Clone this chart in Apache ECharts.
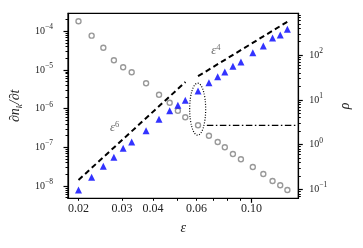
<!DOCTYPE html>
<html><head><meta charset="utf-8">
<script src="https://cdn.jsdelivr.net/npm/echarts@6/dist/echarts.min.js"></script>
<style>html,body{margin:0;padding:0;background:#fff}#chart{width:363px;height:248px}</style>
</head><body><div id="chart"></div>
<script>
// ---- data ----
const epsilon = [0.0200,0.0226,0.0252,0.0278,0.0303,0.0328,0.0375,0.0423,0.0467,0.0504,0.0540,0.0608,0.0673,0.0730,0.0780,0.0841,0.0906,0.1012,0.1116,0.1216,0.1306,0.1396];
const dnkdt = [7.9e-9,1.68e-8,3.24e-8,5.53e-8,9.45e-8,1.37e-7,2.69e-7,5.31e-7,8.85e-7,1.22e-6,1.64e-6,2.86e-6,4.69e-6,6.70e-6,8.87e-6,1.245e-5,1.61e-5,2.80e-5,4.17e-5,6.71e-5,8.02e-5,1.127e-4];
const rho = [572,273,147,76.9,53.7,41.5,23.6,13.1,8.68,5.75,4.10,2.71,1.59,1.148,0.874,0.619,0.472,0.318,0.221,0.1545,0.124,0.0973];
const fitEps6 = [[0.02,1.43e-8],[0.0541,4.9e-6]];
const fitEps4 = [[0.0608,6.9e-6],[0.1396,1.77e-4]];
const rhoPlateau = [[0.066,2.71],[0.152,2.71]];
const ellipseCenter = [0.0606, 9.7e-7];
const annotations = [{exp:'6', x:0.0280, y:3.16e-7},{exp:'4', x:0.0718, y:3.1e-5}];
const xRange = [0.01814, 0.1545];
const leftRange = [4.815e-9, 2.92e-4];
const rightRange = [0.0634, 863];
const xTickLabels = [0.02,0.03,0.04,0.06,0.10];
const xMinorTicks = [0.02,0.03,0.04,0.05,0.06,0.07,0.08,0.09];
const xMajorTicks = [0.1];
const leftDecades = [-8,-7,-6,-5,-4];
const rightDecades = [-1,0,1,2];

// ---- helpers ----
const lg = Math.log10;
const FONT = 'Liberation Serif';
function minorLog(lo, hi) {
  const out = [];
  for (let n = Math.floor(lo) - 1; n <= Math.ceil(hi); n++) {
    for (let k = 2; k <= 9; k++) {
      const v = n + lg(k);
      if (v >= lo && v <= hi) out.push(v);
    }
  }
  return out;
}
const supRich = {
  b: {fontFamily: FONT, fontSize: 10, color: '#222', lineHeight: 16},
  s: {fontFamily: FONT, fontSize: 7.5, color: '#222', lineHeight: 8, verticalAlign: 'top'}
};
function decadeLabel(v) {
  const n = Math.round(v);
  return '{b|10}{s|' + (n < 0 ? '\u2212' : '') + Math.abs(n) + '}';
}
const black = {color: '#000', width: 1.2};
const xr = [lg(xRange[0]), lg(xRange[1])];
const lr = [lg(leftRange[0]), lg(leftRange[1])];
const rr = [lg(rightRange[0]), lg(rightRange[1])];

const chart = echarts.init(document.getElementById('chart'), null, {renderer: 'canvas'});
chart.setOption({
  animation: false,
  backgroundColor: '#fff',
  grid: {left: 65.7, top: 13.3, width: 232.6, height: 185, show: true, borderColor: '#000', borderWidth: 1.2, backgroundColor: 'transparent'},
  xAxis: [
    {type: 'value', min: xr[0], max: xr[1], position: 'bottom',
     axisLine: {show: true, onZero: false, lineStyle: black},
     axisTick: {show: true, length: 4.5, lineStyle: black, customValues: xMajorTicks.map(lg)},
     axisLabel: {show: true, margin: 5, fontFamily: FONT, fontSize: 12, color: '#222',
       customValues: xTickLabels.map(lg), formatter: v => Math.pow(10, v).toFixed(2)},
     splitLine: {show: false},
     name: '\u03b5', nameLocation: 'middle', nameGap: 23,
     nameTextStyle: {fontFamily: FONT, fontStyle: 'italic', fontSize: 14, color: '#222'}},
    {type: 'value', min: xr[0], max: xr[1], position: 'bottom',
     axisLine: {show: false, onZero: false},
     axisTick: {show: true, length: 2.5, lineStyle: {color: '#000', width: 1}, customValues: xMinorTicks.map(lg)},
     axisLabel: {show: false}, splitLine: {show: false}}
  ],
  yAxis: [
    {type: 'value', min: lr[0], max: lr[1], position: 'left',
     axisLine: {show: true, onZero: false, lineStyle: black},
     axisTick: {show: true, length: 4.5, lineStyle: black, customValues: leftDecades},
     axisLabel: {show: true, margin: 15, customValues: leftDecades, formatter: decadeLabel, rich: supRich},
     splitLine: {show: false},
     name: '{i|\u2202n}{k|k}{i|/\u2202t}', nameLocation: 'middle', nameRotate: 90, nameGap: 44,
     nameTextStyle: {rich: {
       i: {fontFamily: FONT, fontStyle: 'italic', fontSize: 14, color: '#222', lineHeight: 18},
       k: {fontFamily: FONT, fontStyle: 'italic', fontSize: 9, color: '#222', lineHeight: 10, verticalAlign: 'bottom'}
     }}},
    {type: 'value', min: lr[0], max: lr[1], position: 'left',
     axisLine: {show: false, onZero: false},
     axisTick: {show: true, length: 2.5, lineStyle: {color: '#000', width: 1}, customValues: minorLog(lr[0], lr[1])},
     axisLabel: {show: false}, splitLine: {show: false}},
    {type: 'value', min: rr[0], max: rr[1], position: 'right',
     axisLine: {show: true, onZero: false, lineStyle: black},
     axisTick: {show: true, length: 4.5, lineStyle: black, customValues: rightDecades},
     axisLabel: {show: true, margin: 11, customValues: rightDecades, formatter: decadeLabel, rich: supRich},
     splitLine: {show: false},
     name: '\u03c1', nameLocation: 'middle', nameRotate: 90, nameGap: 40,
     nameTextStyle: {fontFamily: FONT, fontStyle: 'italic', fontSize: 14, color: '#222'}},
    {type: 'value', min: rr[0], max: rr[1], position: 'right',
     axisLine: {show: false, onZero: false},
     axisTick: {show: true, length: 2.5, lineStyle: {color: '#000', width: 1}, customValues: minorLog(rr[0], rr[1])},
     axisLabel: {show: false}, splitLine: {show: false}}
  ],
  series: [
    {type: 'line', xAxisIndex: 0, yAxisIndex: 0, data: fitEps6.map(p => [lg(p[0]), lg(p[1])]),
     showSymbol: false, lineStyle: {color: '#000', width: 2, type: [5.5, 3.5]}, z: 2},
    {type: 'line', xAxisIndex: 0, yAxisIndex: 0, data: fitEps4.map(p => [lg(p[0]), lg(p[1])]),
     showSymbol: false, lineStyle: {color: '#000', width: 2, type: [5.5, 3.5]}, z: 2},
    {type: 'line', xAxisIndex: 0, yAxisIndex: 2, data: rhoPlateau.map(p => [lg(p[0]), lg(p[1])]),
     showSymbol: false, lineStyle: {color: '#000', width: 1.2, type: [6.5, 2.5, 1.5, 2.5]}, z: 2},
    {type: 'custom', xAxisIndex: 0, yAxisIndex: 0, data: [[lg(ellipseCenter[0]), lg(ellipseCenter[1])]], z: 3,
     renderItem: (params, api) => {
       const p = api.coord([api.value(0), api.value(1)]);
       return {type: 'ellipse', shape: {cx: p[0], cy: p[1], rx: 8, ry: 26},
         style: {fill: 'none', stroke: '#000', lineWidth: 1.2, lineDash: [1, 1.6]}};
     }},
    {type: 'scatter', xAxisIndex: 0, yAxisIndex: 2, data: epsilon.map((x, i) => [lg(x), lg(rho[i])]),
     symbol: 'circle', symbolSize: 5,
     itemStyle: {color: 'transparent', borderColor: '#808080', borderWidth: 1.4}, z: 4},
    {type: 'scatter', xAxisIndex: 0, yAxisIndex: 0, data: epsilon.map((x, i) => [lg(x), lg(dnkdt[i])]),
     symbol: 'triangle', symbolSize: 7, itemStyle: {color: '#0000ff'}, z: 5},
    {type: 'scatter', xAxisIndex: 0, yAxisIndex: 0, symbolSize: 0, z: 6,
     data: annotations.map(a => ({value: [lg(a.x), lg(a.y)], exp: a.exp})),
     label: {show: true, position: 'inside',
       formatter: p => '{e|\u03b5}{s|' + annotations[p.dataIndex].exp + '}',
       rich: {
         e: {fontFamily: FONT, fontStyle: 'italic', fontSize: 13, color: '#444', lineHeight: 16},
         s: {fontFamily: FONT, fontSize: 8.5, color: '#444', lineHeight: 9, verticalAlign: 'top'}
       }}}
  ]
});
</script></body></html>
